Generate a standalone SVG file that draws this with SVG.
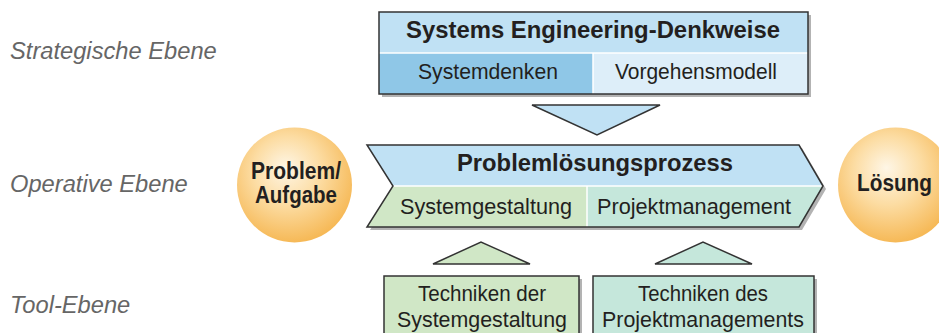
<svg xmlns="http://www.w3.org/2000/svg" width="939" height="333" viewBox="0 0 939 333">
<defs>
<radialGradient id="orb" cx="45%" cy="40%" r="60%" fx="42%" fy="35%">
<stop offset="0" stop-color="#fef6e6"/>
<stop offset="0.5" stop-color="#fcdca2"/>
<stop offset="1" stop-color="#f6b957"/>
</radialGradient>
<style>
.lbl{font-family:"Liberation Sans",Arial,sans-serif;font-style:italic;font-size:23.7px;fill:#666}
.b{font-family:"Liberation Sans",Arial,sans-serif;font-weight:bold;fill:#231f20;text-anchor:middle}
.r{font-family:"Liberation Sans",Arial,sans-serif;fill:#231f20;text-anchor:middle;font-size:22.5px}
.box{stroke:#333;stroke-width:1.5}
.sh{fill:#b3b3b3}
.div{stroke:#fff;stroke-width:1.5}
.blue{fill:#c0e1f4}
.green{fill:#d0e7c6}
.teal{fill:#c5e7db}
</style>
</defs>
<rect width="939" height="333" fill="#fff"/>

<g id="levels">
<text class="lbl" x="10" y="59">Strategische Ebene</text>
<text class="lbl" x="10" y="192">Operative Ebene</text>
<text class="lbl" x="10" y="313">Tool-Ebene</text>
</g>

<g id="se-denkweise">
<rect class="sh" x="382" y="15" width="429" height="82"/>
<rect class="blue" x="379" y="12" width="429" height="41"/>
<rect fill="#8fc7e7" x="379" y="53" width="214" height="41"/>
<rect fill="#ddeef9" x="593" y="53" width="215" height="41"/>
<line class="div" x1="379" y1="53" x2="808" y2="53"/>
<line class="div" x1="593" y1="53" x2="593" y2="94"/>
<rect class="box" x="379" y="12" width="429" height="82" fill="none"/>
<text class="b" x="593" y="38" font-size="23.8" textLength="374" lengthAdjust="spacingAndGlyphs">Systems Engineering-Denkweise</text>
<text class="r" x="488" y="79" textLength="140" lengthAdjust="spacingAndGlyphs">Systemdenken</text>
<text class="r" x="696" y="79" textLength="162" lengthAdjust="spacingAndGlyphs">Vorgehensmodell</text>
</g>

<g id="problemloesungsprozess">
<polygon class="sh" points="370,148 802,148 826,189 802,230 370,230 396,189"/>
<polygon class="blue" points="367,145 799,145 823,186 393,186"/>
<polygon class="green" points="393,186 587,186 587,227 367,227"/>
<polygon class="teal" points="587,186 823,186 799,227 587,227"/>
<line class="div" x1="393" y1="186" x2="823" y2="186"/>
<line class="div" x1="587" y1="186" x2="587" y2="227"/>
<polygon class="box" fill="none" points="367,145 799,145 823,186 799,227 367,227 393,186"/>
<text class="b" x="595" y="171" font-size="23.8" textLength="276" lengthAdjust="spacingAndGlyphs">Problemlösungsprozess</text>
<text class="r" x="486" y="214" textLength="172" lengthAdjust="spacingAndGlyphs">Systemgestaltung</text>
<text class="r" x="694" y="214" textLength="194" lengthAdjust="spacingAndGlyphs">Projektmanagement</text>
</g>

<g id="problem">
<circle cx="294.5" cy="185" r="57.5" fill="url(#orb)"/>
<text class="b" x="296" y="179" font-size="23" textLength="90" lengthAdjust="spacingAndGlyphs">Problem/</text>
<text class="b" x="296" y="203" font-size="23" textLength="82" lengthAdjust="spacingAndGlyphs">Aufgabe</text>
</g>

<g id="loesung">
<circle cx="895.5" cy="185" r="57.5" fill="url(#orb)"/>
<text class="b" x="894.5" y="191" font-size="23" textLength="75" lengthAdjust="spacingAndGlyphs">Lösung</text>
</g>

<g id="techniken-systemgestaltung">
<rect class="sh" x="387" y="279" width="195" height="70"/>
<rect class="box green" x="384" y="276" width="195" height="70"/>
<text class="r" x="482" y="301" textLength="128" lengthAdjust="spacingAndGlyphs">Techniken der</text>
<text class="r" x="482" y="327" textLength="170" lengthAdjust="spacingAndGlyphs">Systemgestaltung</text>
</g>

<g id="techniken-projektmanagement">
<rect class="sh" x="596" y="279" width="221" height="70"/>
<rect class="box teal" x="593" y="276" width="221" height="70"/>
<text class="r" x="703" y="301" textLength="130" lengthAdjust="spacingAndGlyphs">Techniken des</text>
<text class="r" x="703" y="327" textLength="202" lengthAdjust="spacingAndGlyphs">Projektmanagements</text>
</g>

<g id="connectors">
<polygon class="box blue" points="532,105 660,105 597,135"/>
<polygon class="box green" points="433,264 481,242 530,264"/>
<polygon class="box teal" points="655,264 703,242 752,264"/>
</g>
</svg>
